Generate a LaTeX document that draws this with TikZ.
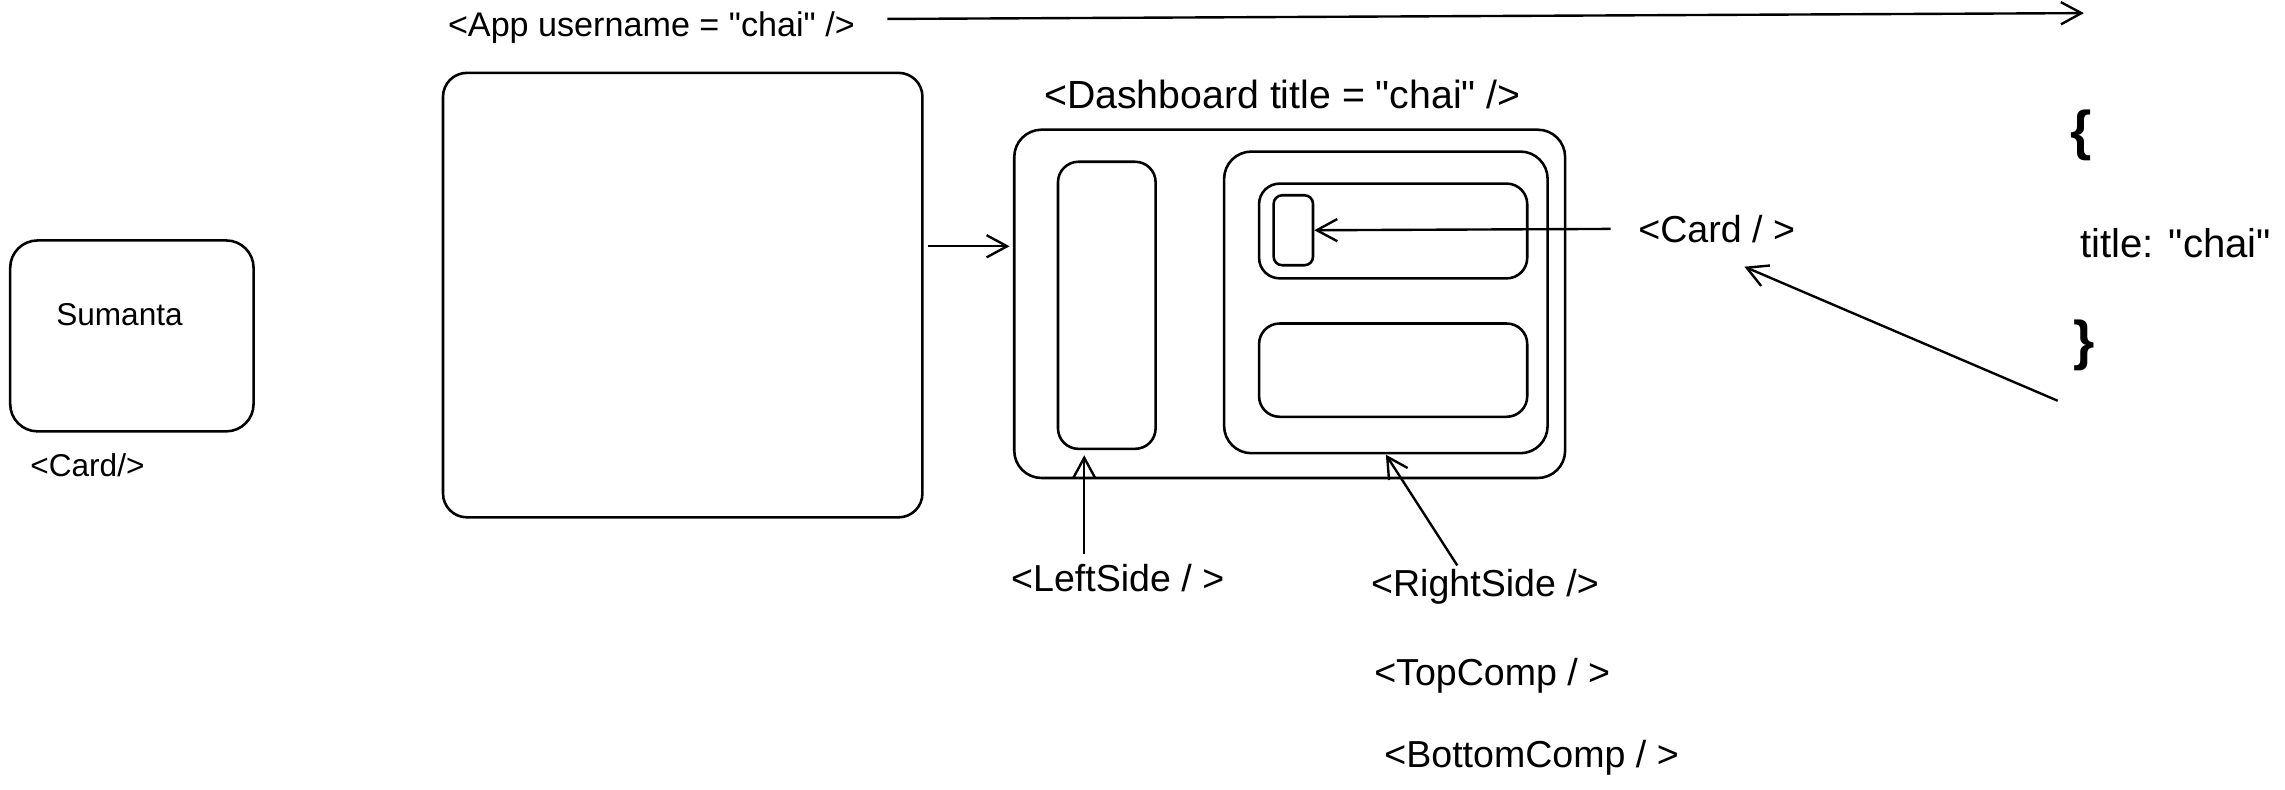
\documentclass[tikz,border=0pt]{standalone}
\usepackage{fontspec}
\setmainfont{Liberation Sans}[Ligatures=TeXOff]
\usetikzlibrary{arrows.meta,fit,calc}
\begin{document}
\begin{tikzpicture}[x=0.3mm,y=-0.3mm,
  box/.style={draw,line width=1.5pt,rounded corners=#1,inner sep=0pt},
  box/.default=12pt,
  lbl/.style={inner sep=2pt,font=\fontsize{22}{26}\selectfont},
  small/.style={font=\fontsize{18.5}{22}\selectfont},
  brace/.style={inner sep=0pt,font=\fontsize{32}{36}\selectfont\bfseries},
  arr/.style={line width=1.4pt,-{Straight Barb[length=12pt,width=13pt,line width=1.4pt]}}]
\useasboundingbox (0,0) rectangle (1568,542);

% left card
\node[box=16pt, fit={(7,165) (174,296)}] (card) {};
\node[lbl, small] (sum) at (82,216) {Sumanta};
\node[lbl, small] (cardname) at (60,319) {<Card/>};

% App
\node[lbl, font=\fontsize{20}{24}\selectfont] (applbl) at (447,19) {<App username = "chai" />};
\node[box=14pt, fit={(304,50) (633,355)}] (app) {};

% Dashboard
\node[lbl, font=\fontsize{23}{27}\selectfont] (dashlbl) at (880,65) {<Dashboard title = "chai" />};
\node[box=16pt, fit={(696,89) (1074,328)}] (dash) {};
\node[box=12pt, fit={(726,111) (793,308)}] (left) {};
\node[box=16pt, fit={(840,104) (1062,311)}] (right) {};
\node[box=12pt, fit={(864,126) (1048,191)}] (top) {};
\node[box=5pt, fit={(874,134) (901,182)}] (sc) {};
\node[box=12pt, fit={(864,222) (1048,286)}] (bottom) {};

% right side labels
\node[lbl] (cardlbl) at (1178,157) {<Card / >};
\node[brace] (lb) at (1428,93) {\{};
\node[lbl, font=\fontsize{23.5}{27}\selectfont] (ttl) at (1493,167) {title: "chai"};
\node[brace] (rb) at (1430,237) {\}};

% bottom labels
\node[lbl] (lslbl) at (767,397) {<LeftSide / >};
\node[lbl] (rslbl) at (1019,403) {<RightSide />};
\node[lbl] (tclbl) at (1024,464) {<TopComp / >};
\node[lbl] (bclbl) at (1051,520) {<BottomComp / >};

% connectors
\coordinate (l1) at (609,13);
\coordinate (l2) at (1430,9);
\draw[arr] (l1) -- (l2);

\coordinate (a1) at (637,169);
\draw[arr, shorten >=2pt] (a1) -- (a1 -| dash.west);

\draw[arr, shorten <=14pt] (cardlbl.west) -- (sc.east);

\coordinate (t1) at (1412,275);
\coordinate (t2) at (1197,183);
\draw[arr] (t1) -- (t2);

\coordinate (lsa) at (744,380);
\draw[arr, shorten >=3pt] (lsa) -- (lsa |- left.south);

\coordinate (rsa) at (1000,388);
\coordinate (rsb) at (951,312);
\draw[arr] (rsa) -- (rsb);
\end{tikzpicture}
\end{document}
